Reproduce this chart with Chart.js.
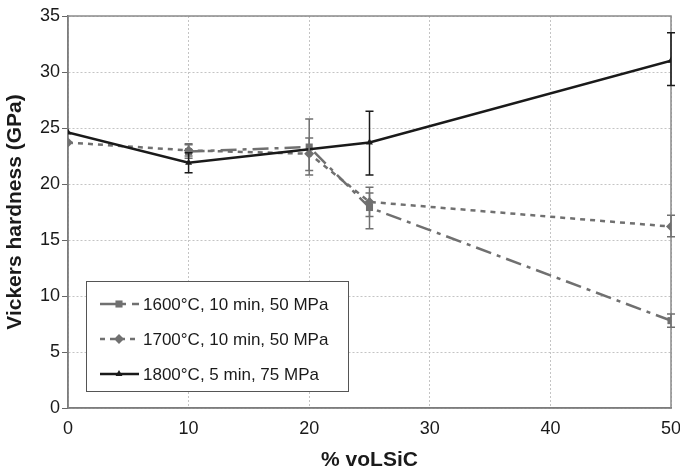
<!DOCTYPE html>
<html>
<head>
<meta charset="utf-8">
<script src="https://cdn.jsdelivr.net/npm/chart.js@4/dist/chart.umd.min.js"></script>
<style>
  html, body { margin: 0; background: #fff; }
  #wrap { width: 680px; height: 472px; }
</style>
</head>
<body>
<div id="wrap"><canvas id="c"></canvas></div>
<script>
/* Dureza Vickers vs % vol SiC */
const xTicks = [0, 10, 20, 30, 40, 50];
const yTicks = [0, 5, 10, 15, 20, 25, 30, 35];

const label1600 = '1600°C, 10 min, 50 MPa';
const x1600  = [10, 20, 25, 50];
const hv1600 = [22.9, 23.3, 17.9, 7.8];
const lo1600 = [22.3, 20.8, 16.0, 7.2];
const hi1600 = [23.5, 25.8, 19.7, 8.4];

const label1700 = '1700°C, 10 min, 50 MPa';
const x1700  = [0, 10, 20, 25, 50];
const hv1700 = [23.7, 23.0, 22.7, 18.4, 16.2];
const lo1700 = [null, 22.5, 21.2, 17.1, 15.3];
const hi1700 = [null, 23.6, 24.1, 19.2, 17.2];

const label1800 = '1800°C, 5 min, 75 MPa';
const x1800  = [0, 10, 25, 50];
const hv1800 = [24.6, 21.9, 23.7, 31.0];
const lo1800 = [null, 21.0, 20.8, 28.8];
const hi1800 = [null, 22.8, 26.5, 33.5];

const FONT = 'Liberation Sans, Arial, sans-serif';
const INK = '#1a1a1a';
const GRAY = '#707070';

const pts = (xs, ys) => xs.map((x, i) => ({ x, y: ys[i] }));

/* Barras de error (lo/hi por punto) */
const errorBars = {
  id: 'errorBars',
  afterDatasetsDraw(chart) {
    const { ctx, scales: { x, y } } = chart;
    chart.data.datasets.forEach((ds) => {
      ctx.save();
      ctx.strokeStyle = ds.borderColor;
      ctx.lineWidth = 1.5;
      ds.data.forEach((p, i) => {
        if (ds.lo[i] == null) return;
        const px = x.getPixelForValue(p.x);
        const y1 = y.getPixelForValue(ds.lo[i]);
        const y2 = y.getPixelForValue(ds.hi[i]);
        ctx.beginPath();
        ctx.moveTo(px, y1); ctx.lineTo(px, y2);
        ctx.moveTo(px - 4, y1); ctx.lineTo(px + 4, y1);
        ctx.moveTo(px - 4, y2); ctx.lineTo(px + 4, y2);
        ctx.stroke();
      });
      ctx.restore();
    });
  },
};

/* Marco gris del área de trazado */
const frame = {
  id: 'frame',
  beforeDatasetsDraw(chart) {
    const { ctx, chartArea: a } = chart;
    ctx.save();
    ctx.strokeStyle = '#8a8a8a';
    ctx.lineWidth = 1.5;
    ctx.strokeRect(a.left, a.top, a.right - a.left, a.bottom - a.top);
    ctx.restore();
  },
};

/* Leyenda dentro del gráfico, abajo a la izquierda */
const boxLegend = {
  id: 'boxLegend',
  afterDraw(chart) {
    const { ctx } = chart;
    const bx = 86, by = 281, bw = 262, bh = 110;
    ctx.save();
    ctx.fillStyle = '#fff';
    ctx.fillRect(bx, by, bw, bh);
    ctx.strokeStyle = '#555';
    ctx.lineWidth = 1;
    ctx.strokeRect(bx + 0.5, by + 0.5, bw, bh);
    const rows = [304, 339, 374];
    chart.data.datasets.forEach((ds, i) => {
      const ry = rows[i];
      ctx.strokeStyle = ds.borderColor;
      ctx.lineWidth = ds.borderWidth;
      ctx.setLineDash(ds.borderDash || []);
      ctx.beginPath(); ctx.moveTo(100, ry); ctx.lineTo(139, ry); ctx.stroke();
      ctx.setLineDash([]);
      ctx.fillStyle = ds.pointBackgroundColor;
      Chart.helpers.drawPoint(ctx, { pointStyle: ds.pointStyle, radius: ds.pointRadius, rotation: 0, borderWidth: 0 }, 119, ry);
      ctx.fillStyle = INK;
      ctx.font = '17px ' + FONT;
      ctx.textBaseline = 'middle';
      ctx.fillText(ds.label, 143, ry + 1);
    });
    ctx.restore();
  },
};

const line = (label, xs, ys, lo, hi, color, dash, style, r, order) => ({
  label, data: pts(xs, ys), lo, hi,
  showLine: true, borderColor: color, borderWidth: 2.5, borderDash: dash,
  pointStyle: style, pointRadius: r, pointBackgroundColor: color,
  pointBorderColor: color, pointBorderWidth: 0, order,
});

new Chart(document.getElementById('c'), {
  type: 'scatter',
  data: {
    datasets: [
      line(label1600, x1600, hv1600, lo1600, hi1600, GRAY, [16, 6, 4, 6], 'rect', 5, 1),
      line(label1700, x1700, hv1700, lo1700, hi1700, GRAY, [5, 5], 'rectRot', 5, 2),
      line(label1800, x1800, hv1800, lo1800, hi1800, INK, [], 'triangle', 4, 0),
    ],
  },
  options: {
    responsive: true, maintainAspectRatio: false, animation: false,
    layout: { padding: { top: 16, right: 9, left: 0, bottom: 0 } },
    plugins: { legend: { display: false }, tooltip: { enabled: false } },
    scales: {
      x: {
        type: 'linear', min: 0, max: 50,
        afterBuildTicks: (s) => { s.ticks = xTicks.map((v) => ({ value: v })); },
        afterFit: (s) => { s.height = 64; s.paddingLeft = 0; s.paddingRight = 0; },
        grid: { color: '#c4c4c4', lineWidth: 1, drawTicks: false },
        border: { color: '#555', width: 1.5, dash: [2, 2] },
        ticks: { color: INK, padding: 10, font: { family: FONT, size: 18 } },
        title: { display: true, text: '% voLSiC', color: INK, padding: { top: 0, bottom: 1 },
                 font: { family: FONT, size: 21, weight: 'bold', lineHeight: 1 } },
      },
      y: {
        min: 0, max: 35,
        afterBuildTicks: (s) => { s.ticks = yTicks.map((v) => ({ value: v })); },
        afterFit: (s) => { s.width = 68; s.paddingTop = 0; s.paddingBottom = 0; },
        grid: { color: '#c4c4c4', lineWidth: 1, tickLength: 6, tickColor: '#666', tickBorderDash: [], tickWidth: 1 },
        border: { color: '#555', width: 1.5, dash: [2, 2] },
        ticks: { color: INK, padding: 2, font: { family: FONT, size: 18 } },
        title: { display: true, text: 'Vickers hardness (GPa)', color: INK, padding: { top: 3, bottom: 0 },
                 font: { family: FONT, size: 21, weight: 'bold' } },
      },
    },
  },
  plugins: [frame, errorBars, boxLegend],
});
</script>
</body>
</html>
